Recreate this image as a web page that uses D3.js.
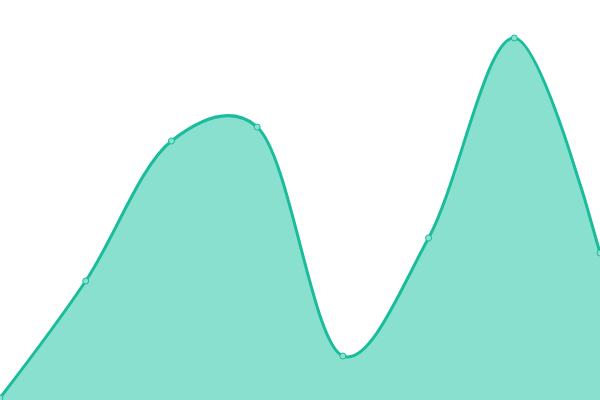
<!DOCTYPE html>
<html>
<head>
<meta charset="utf-8">
<script src="https://cdn.jsdelivr.net/npm/d3@7"></script>
<style>
  body { margin: 0; background: #fff; }
  svg { display: block; }
</style>
</head>
<body>
<div id="chart"></div>
<script>
const categories = ["1", "2", "3", "4", "5", "6", "7", "8"];
const values = [2, 119, 259, 273, 44, 162, 362, 147];

const width = 600;
const height = 400;

const svg = d3.select("#chart").append("svg")
  .attr("width", width)
  .attr("height", height);

const x = d3.scalePoint()
  .domain(categories)
  .range([0, width]);

const y = d3.scaleLinear()
  .domain([0, 400])
  .range([height, 0]);

const pts = categories.map((c, i) => ({ c, v: values[i] }));

const curve = d3.curveCatmullRom.alpha(0.25);

const area = d3.area()
  .x(d => x(d.c))
  .y0(height)
  .y1(d => y(d.v))
  .curve(curve);

const line = d3.line()
  .x(d => x(d.c))
  .y(d => y(d.v))
  .curve(curve);

svg.append("path")
  .datum(pts)
  .attr("d", area)
  .attr("fill", "#8ae0cf");

svg.append("path")
  .datum(pts)
  .attr("d", line)
  .attr("fill", "none")
  .attr("stroke", "#1abc9c")
  .attr("stroke-width", 3);

// point markers
svg.selectAll(".dot")
  .data(pts)
  .enter()
  .append("circle")
  .attr("class", "dot")
  .attr("cx", d => x(d.c))
  .attr("cy", d => y(d.v))
  .attr("r", 3)
  .attr("fill", "#8ce0cf")
  .attr("stroke", "#1abc9c")
  .attr("stroke-width", 1);
</script>
</body>
</html>
